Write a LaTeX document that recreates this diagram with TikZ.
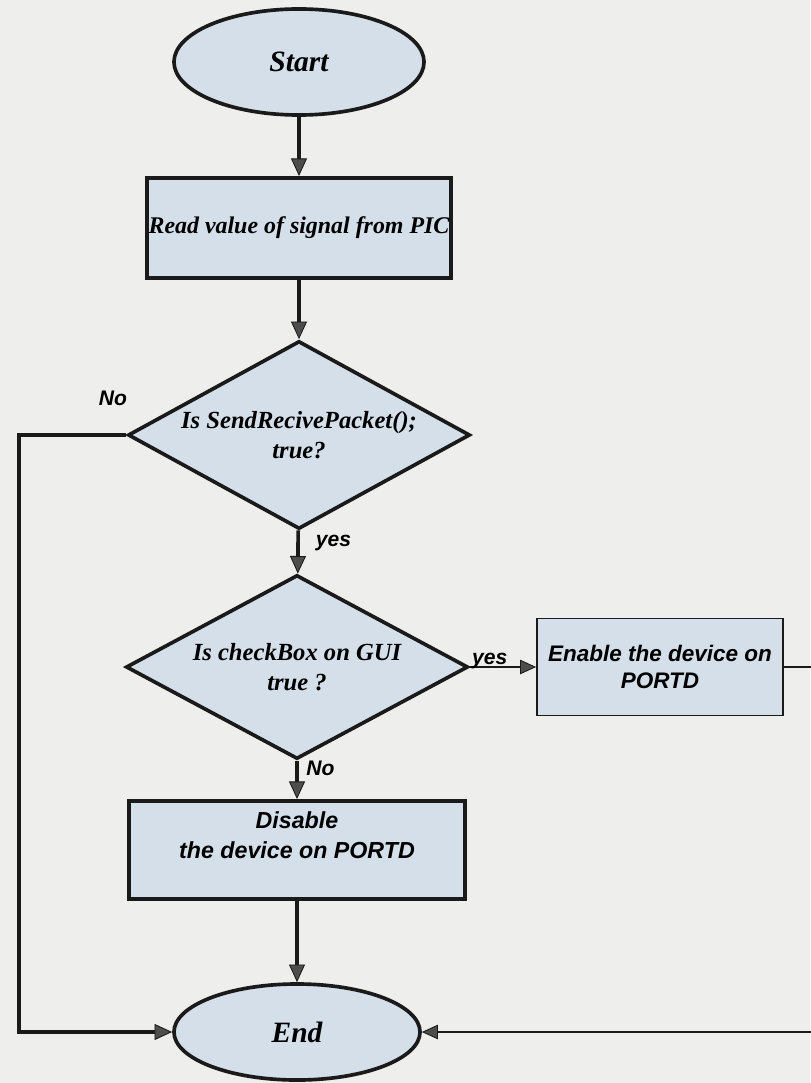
\documentclass[tikz,border=0pt]{standalone}
\usepackage{fontspec}
\setmainfont{Liberation Serif}
\setsansfont{Liberation Sans}
\usetikzlibrary{arrows.meta,shapes.geometric}
\definecolor{paper}{HTML}{EEEEEC}
\definecolor{boxfill}{HTML}{D5DFE9}
\definecolor{tipgray}{HTML}{4D4D4D}
\definecolor{linedark}{HTML}{1A1A1A}
\tikzset{
  terminal/.style={draw=linedark, line width=2.6pt, ellipse, fill=boxfill, inner sep=0pt, minimum width=6.25cm, minimum height=2.65cm, font=\fontsize{21}{25}\selectfont\bfseries\itshape},
  process/.style={draw=linedark, line width=2.8pt, fill=boxfill, align=center, inner sep=1pt, font=\fontsize{17}{21}\selectfont\bfseries\itshape},
  action/.style={draw=linedark, line width=1.2pt, fill=boxfill, align=center, inner sep=2pt, font=\sffamily\fontsize{16}{19}\selectfont\bfseries\itshape},
  decision/.style={diamond, draw=linedark, line width=2.6pt, fill=boxfill, align=center, inner sep=0pt, aspect=1.85, font=\fontsize{17.5}{21}\selectfont\bfseries\itshape},
  sanstext/.style={font=\sffamily\fontsize{16.5}{21}\selectfont\bfseries\itshape},
  tag/.style={font=\sffamily\fontsize{15}{18}\selectfont\bfseries\itshape},
  arrow/.style={-{Triangle[length=4.4mm, width=4mm, fill=tipgray, line width=0.6pt]}, line width=2.6pt, draw=linedark},
  thinarrow/.style={-{Triangle[length=4mm, width=3.6mm, fill=tipgray, line width=0.6pt]}, line width=1.3pt, draw=linedark}
}

\begin{document}
\begin{tikzpicture}[x=0.025cm, y=-0.025cm]
  \path[use as bounding box, fill=paper] (0,0) rectangle (810,1083);

  \node[terminal] (start) at (299,62) {Start};
  \node[process, minimum width=7.6cm, minimum height=2.5cm] (read) at (299,228) {Read value of signal from PIC};
  \node[decision, minimum width=8.55cm, minimum height=4.7cm] (sendcheck) at (299,435) {Is SendRecivePacket();\\true?};
  \node[decision, minimum width=8.55cm, minimum height=4.6cm] (guicheck) at (297,667) {Is checkBox on GUI\\true ?};
  \node[action, minimum width=6.15cm, minimum height=2.42cm] (enable) at (660,667) {Enable the device on\\PORTD};
  \node[process, sanstext, minimum width=8.4cm, minimum height=2.45cm] (disable) at (297,850) {Disable\\the device on PORTD\\\mbox{}};
  \node[terminal, minimum width=6.15cm, minimum height=2.4cm] (end) at (297,1032) {End};

  \draw[arrow] (start) -- (read);
  \draw[arrow] (read) -- (sendcheck);
  \draw[arrow] (sendcheck) -- node[tag, pos=0.3, right=8pt] {yes} (guicheck);
  \draw[arrow] (guicheck) -- node[tag, pos=0.2, right=2pt] {No} (disable);
  \draw[arrow] (disable) -- (end);
  \draw[arrow] (sendcheck.west) -- ++(-107,0) |- (end.west);
  \node[tag] (nolabel) at (113,398) {No};
  \draw[thinarrow] (guicheck.east) -- node[tag, pos=0.3, above=-5pt] {yes} (enable.west);
  \draw[thinarrow] (enable.east) -- ++(60,0) |- (end.east);
\end{tikzpicture}
\end{document}
